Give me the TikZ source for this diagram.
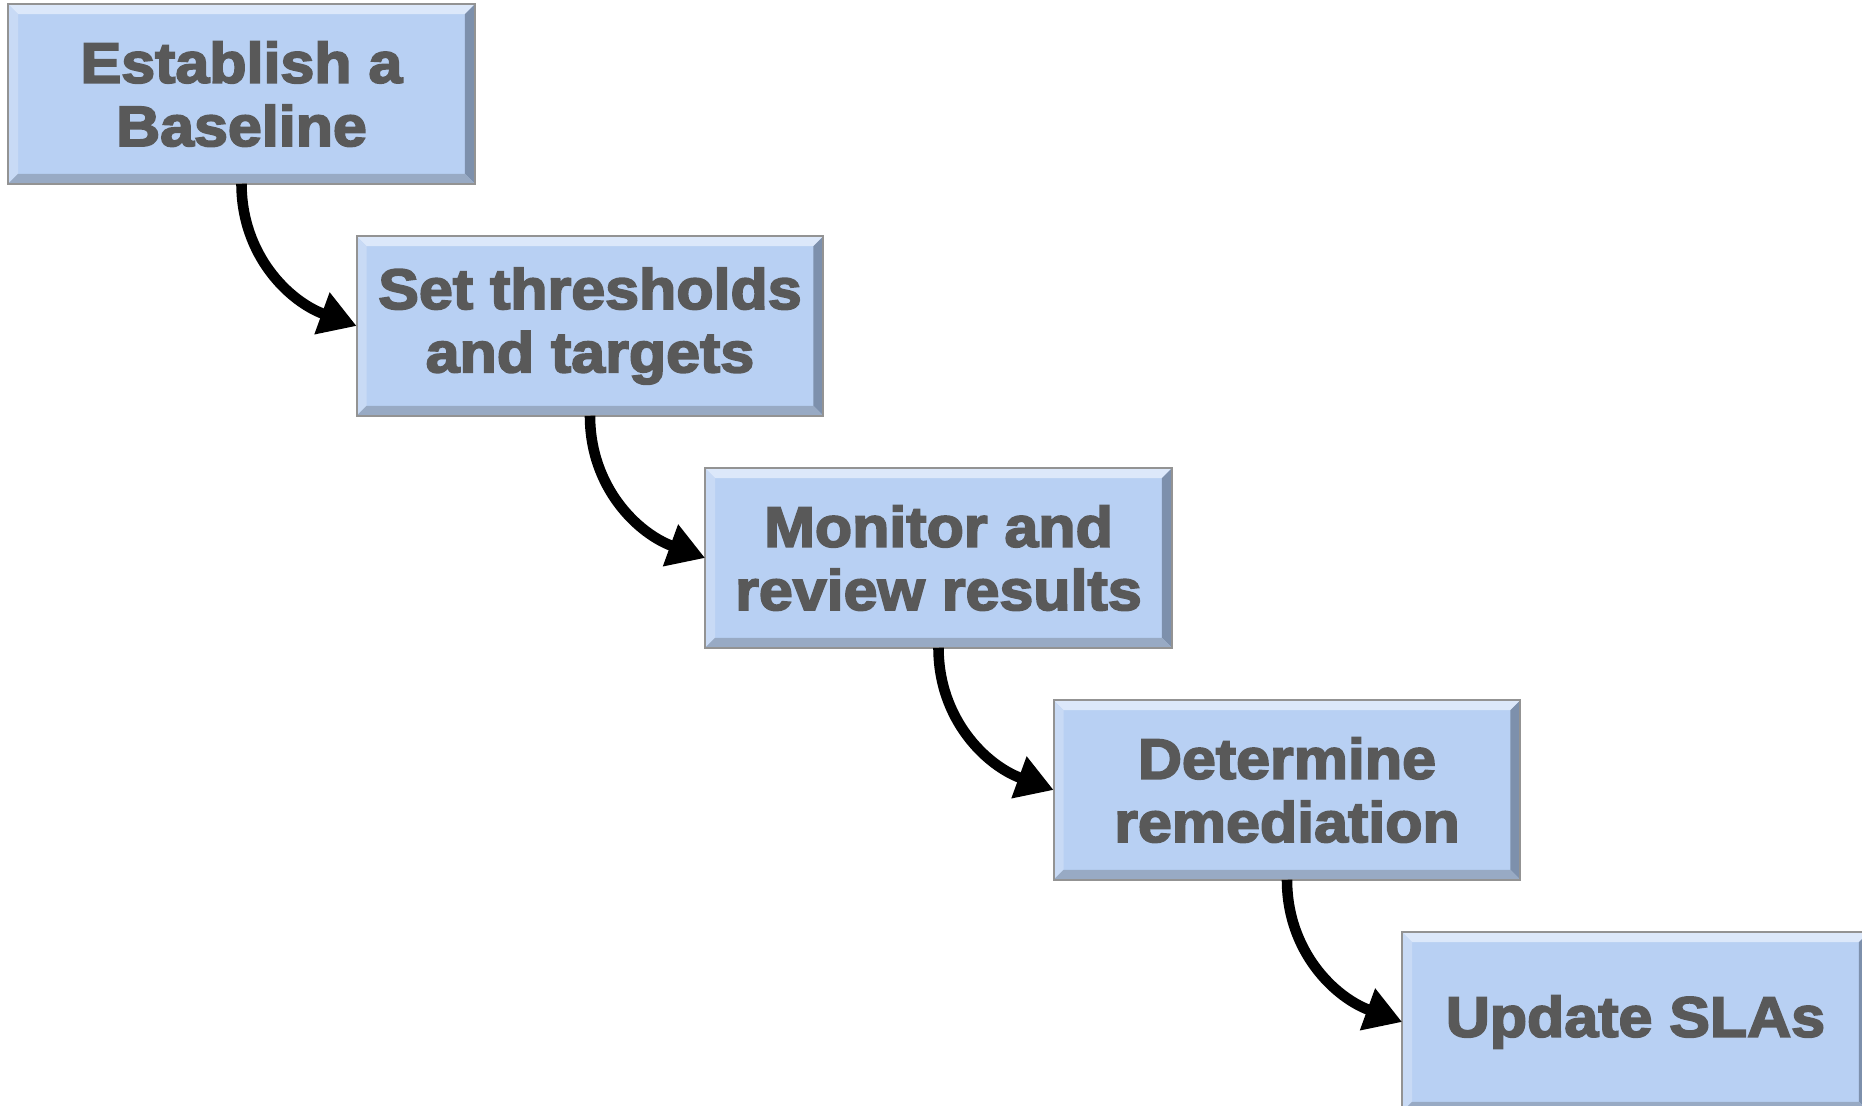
\documentclass[tikz,border=0pt]{standalone}
\usepackage{fontspec}
\newfontfamily\boxfont[BoldFeatures={FakeBold=3.2,FakeStretch=1.07}]{Liberation Sans}
\usetikzlibrary{arrows.meta,calc}
\definecolor{boxfill}{HTML}{B8D0F3}
\definecolor{bevtop}{HTML}{DCE8FA}
\definecolor{bevleft}{HTML}{C8DAF5}
\definecolor{bevright}{HTML}{7D90AC}
\definecolor{bevbot}{HTML}{98AAC4}
\definecolor{txt}{HTML}{595959}
\tikzset{
  stepbox/.style={rectangle, minimum width=4.65cm, minimum height=1.78cm, inner sep=0pt,
    fill=boxfill, draw=none, text=txt, align=center,
    font=\boxfont\bfseries\fontsize{16.2pt}{18pt}\selectfont},
  flow/.style={line width=3pt, -{Triangle[length=10.5pt,width=12pt]}}
}
\newcommand\bevel[1]{%
  \fill[bevtop] (#1.north west) -- (#1.north east) -- ($(#1.north east)+(-10,10)$) -- ($(#1.north west)+(10,10)$) -- cycle;
  \fill[bevleft] (#1.north west) -- ($(#1.north west)+(10,10)$) -- ($(#1.south west)+(10,-10)$) -- (#1.south west) -- cycle;
  \fill[bevright] (#1.north east) -- (#1.south east) -- ($(#1.south east)+(-10,-10)$) -- ($(#1.north east)+(-10,10)$) -- cycle;
  \fill[bevbot] (#1.south west) -- (#1.south east) -- ($(#1.south east)+(-10,-10)$) -- ($(#1.south west)+(10,-10)$) -- cycle;
  \draw[gray!85, line width=0.6pt] (#1.north west) rectangle (#1.south east);
}
\begin{document}
\begin{tikzpicture}[x=0.01cm,y=-0.01cm]
\useasboundingbox (0,0) rectangle (1862,1106);
\clip (0,0) rectangle (1862,1106);
\node[stepbox] (b1) at (241.5,94) {};
\node[stepbox] (b2) at (590,326) {};
\node[stepbox] (b3) at (938.5,558) {};
\node[stepbox] (b4) at (1287,790) {};
\node[stepbox] (b5) at (1635.5,1022) {};
\foreach \n in {b1,b2,b3,b4,b5} {\bevel{\n}}
\node[stepbox, fill=none] (t1) at (b1) {Establish a\\Baseline};
\node[stepbox, fill=none] (t2) at (b2) {Set thresholds\\and targets};
\node[stepbox, fill=none] (t3) at (b3) {Monitor and\\review results};
\node[stepbox, fill=none] (t4) at (b4) {Determine\\remediation};
\node[stepbox, fill=none] (t5) at (b5) {Update SLAs};
\draw[flow] (b1.south) to[out=-90,in=160] (b2.west);
\draw[flow] (b2.south) to[out=-90,in=160] (b3.west);
\draw[flow] (b3.south) to[out=-90,in=160] (b4.west);
\draw[flow] (b4.south) to[out=-90,in=160] (b5.west);
\end{tikzpicture}
\end{document}
